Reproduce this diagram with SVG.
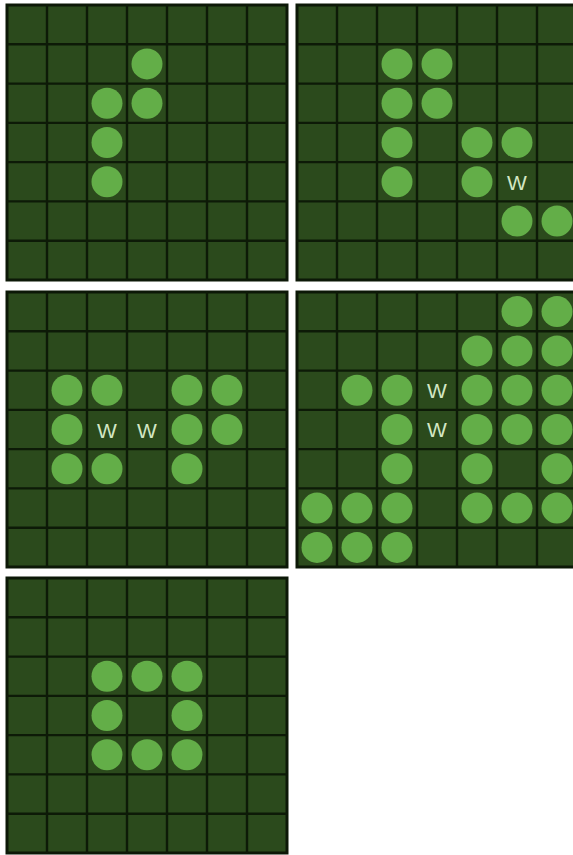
<svg xmlns="http://www.w3.org/2000/svg" xmlns:xlink="http://www.w3.org/1999/xlink" width="573" height="855" viewBox="0 0 573 855">
<style>
.bg{fill:#2b4a1c;stroke:#0c1807;stroke-width:3}
.gl{stroke:#0d1a07;stroke-width:2.4;fill:none}
.st{fill:#63ae48}
.w{fill:#d3e7c4;font-family:"Liberation Sans",Arial,sans-serif;font-size:21px;text-anchor:middle;dominant-baseline:central}
</style>
<defs>
<symbol id="board" overflow="visible">
<rect class="bg" x="0" y="0" width="280" height="275"/>
<path class="gl" d="M40 0V275M80 0V275M120 0V275M160 0V275M200 0V275M240 0V275M0 39.3H280M0 78.6H280M0 117.9H280M0 157.1H280M0 196.4H280M0 235.7H280"/>
</symbol>
<circle id="s" class="st" r="15.5"/>
</defs>
<rect width="573" height="855" fill="#ffffff"/>
<g id="board1" transform="translate(7,5)">
<use xlink:href="#board"/>
<use xlink:href="#s" x="140" y="58.9"/>
<use xlink:href="#s" x="100" y="98.2"/>
<use xlink:href="#s" x="140" y="98.2"/>
<use xlink:href="#s" x="100" y="137.5"/>
<use xlink:href="#s" x="100" y="176.8"/>
</g>
<g id="board2" transform="translate(297,5)">
<use xlink:href="#board"/>
<use xlink:href="#s" x="100" y="58.9"/>
<use xlink:href="#s" x="140" y="58.9"/>
<use xlink:href="#s" x="100" y="98.2"/>
<use xlink:href="#s" x="140" y="98.2"/>
<use xlink:href="#s" x="100" y="137.5"/>
<use xlink:href="#s" x="180" y="137.5"/>
<use xlink:href="#s" x="220" y="137.5"/>
<use xlink:href="#s" x="100" y="176.8"/>
<use xlink:href="#s" x="180" y="176.8"/>
<text class="w" x="220" y="177">W</text>
<use xlink:href="#s" x="220" y="216.1"/>
<use xlink:href="#s" x="260" y="216.1"/>
</g>
<g id="board3" transform="translate(7,292)">
<use xlink:href="#board"/>
<use xlink:href="#s" x="60" y="98.2"/>
<use xlink:href="#s" x="100" y="98.2"/>
<use xlink:href="#s" x="180" y="98.2"/>
<use xlink:href="#s" x="220" y="98.2"/>
<use xlink:href="#s" x="60" y="137.5"/>
<text class="w" x="100" y="138">W</text>
<text class="w" x="140" y="138">W</text>
<use xlink:href="#s" x="180" y="137.5"/>
<use xlink:href="#s" x="220" y="137.5"/>
<use xlink:href="#s" x="60" y="176.8"/>
<use xlink:href="#s" x="100" y="176.8"/>
<use xlink:href="#s" x="180" y="176.8"/>
</g>
<g id="board4" transform="translate(297,292)">
<use xlink:href="#board"/>
<use xlink:href="#s" x="220" y="19.6"/>
<use xlink:href="#s" x="260" y="19.6"/>
<use xlink:href="#s" x="180" y="58.9"/>
<use xlink:href="#s" x="220" y="58.9"/>
<use xlink:href="#s" x="260" y="58.9"/>
<use xlink:href="#s" x="60" y="98.2"/>
<use xlink:href="#s" x="100" y="98.2"/>
<text class="w" x="140" y="98.5">W</text>
<use xlink:href="#s" x="180" y="98.2"/>
<use xlink:href="#s" x="220" y="98.2"/>
<use xlink:href="#s" x="260" y="98.2"/>
<use xlink:href="#s" x="100" y="137.5"/>
<text class="w" x="140" y="137.8">W</text>
<use xlink:href="#s" x="180" y="137.5"/>
<use xlink:href="#s" x="220" y="137.5"/>
<use xlink:href="#s" x="260" y="137.5"/>
<use xlink:href="#s" x="100" y="176.8"/>
<use xlink:href="#s" x="180" y="176.8"/>
<use xlink:href="#s" x="260" y="176.8"/>
<use xlink:href="#s" x="20" y="216.1"/>
<use xlink:href="#s" x="60" y="216.1"/>
<use xlink:href="#s" x="100" y="216.1"/>
<use xlink:href="#s" x="180" y="216.1"/>
<use xlink:href="#s" x="220" y="216.1"/>
<use xlink:href="#s" x="260" y="216.1"/>
<use xlink:href="#s" x="20" y="255.4"/>
<use xlink:href="#s" x="60" y="255.4"/>
<use xlink:href="#s" x="100" y="255.4"/>
</g>
<g id="board5" transform="translate(7,578)">
<use xlink:href="#board"/>
<use xlink:href="#s" x="100" y="98.2"/>
<use xlink:href="#s" x="140" y="98.2"/>
<use xlink:href="#s" x="180" y="98.2"/>
<use xlink:href="#s" x="100" y="137.5"/>
<use xlink:href="#s" x="180" y="137.5"/>
<use xlink:href="#s" x="100" y="176.8"/>
<use xlink:href="#s" x="140" y="176.8"/>
<use xlink:href="#s" x="180" y="176.8"/>
</g>
<g id="connectors"/>
</svg>
